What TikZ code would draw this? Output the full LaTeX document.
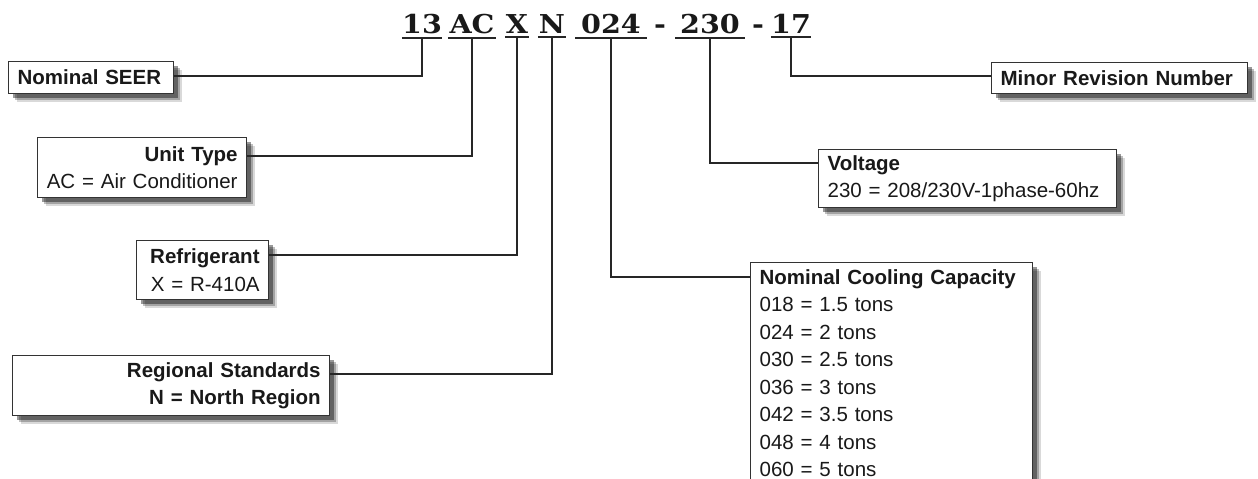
\documentclass[tikz,border=0pt]{standalone}
\usepackage{fontspec}
\setmainfont{Liberation Sans}
\newfontfamily\codefont[FakeStretch=1.1]{DejaVu Serif}
\usetikzlibrary{shadows}

\tikzset{
  infobox/.style={draw=black!80, line width=1.2pt, fill=white, anchor=north west,
    inner xsep=9pt, inner ysep=0pt, text=black!90,
    font=\fontsize{20.5}{27.5}\selectfont,
    drop shadow={shadow xshift=8pt, shadow yshift=-8pt, fill=black, opacity=.15},
    drop shadow={shadow xshift=6pt, shadow yshift=-6pt, fill=black, opacity=.25},
    drop shadow={shadow xshift=4pt, shadow yshift=-4pt, fill=black, opacity=.4}},
  code/.style={font=\codefont\bfseries\fontsize{26}{30}\selectfont, text=black!90,
    anchor=base, inner xsep=0pt, inner ysep=4pt},
  lead/.style={line width=2pt, black!85}
}

\begin{document}
\begin{tikzpicture}[x=1pt, y=-1pt]
    \useasboundingbox (0, 0) rectangle (1258, 479);

    % model number
    \node[code, minimum width=35pt] (c13) at (422, 33) {13};
    \node[code, minimum width=48pt] (cac) at (472, 33) {AC};
    \node[code, minimum width=24pt] (cx) at (517, 33) {X};
    \node[code, minimum width=28pt] (cn) at (552, 33) {N};
    \node[code, minimum width=71pt] (c024) at (611, 33) {024};
    \node[code] (dash1) at (660, 33) {-};
    \node[code, minimum width=69pt] (c230) at (710, 33) {230};
    \node[code] (dash2) at (758, 33) {-};
    \node[code, minimum width=35pt] (c17) at (791, 33) {17};
    \foreach \n in {c13, cac, cx, cn, c024, c230, c17}
      \draw[lead] (\n.south west) -- (\n.south east);

    % boxes
    \node[infobox, text width=147pt, minimum height=32pt, align=left] (seer) at (8, 61)
      {\textbf{Nominal SEER}};
    \node[infobox, text width=191pt, minimum height=60pt, align=right] (unit) at (37, 137)
      {\textbf{Unit Type}\\AC = Air Conditioner};
    \node[infobox, text width=114pt, minimum height=59pt, align=right] (refr) at (136, 240)
      {\textbf{Refrigerant}\\X = R-410A};
    \node[infobox, text width=299pt, minimum height=60pt, align=right] (region) at (12, 355)
      {\textbf{Regional Standards}\\\textbf{N = North Region}};
    \node[infobox, text width=264pt, inner ysep=7pt, align=left] (cool) at (750, 262)
      {\textbf{Nominal Cooling Capacity}\\018 = 1.5 tons\\024 = 2 tons\\030 = 2.5 tons\\
       036 = 3 tons\\042 = 3.5 tons\\048 = 4 tons\\060 = 5 tons};
    \node[infobox, text width=280pt, minimum height=58pt, align=left] (volt) at (818, 149)
      {\textbf{Voltage}\\230 = 208/230V-1phase-60hz};
    \node[infobox, text width=238pt, minimum height=31pt, align=left] (minor) at (991, 62)
      {\textbf{Minor Revision Number}};

    % leaders
    \draw[lead] (c13.south) |- ([yshift=-15pt]seer.north east);
    \draw[lead] (cac.south) |- ([yshift=-19pt]unit.north east);
    \draw[lead] (cx.south) |- ([yshift=-15pt]refr.north east);
    \draw[lead] (cn.south) |- ([yshift=-19pt]region.north east);
    \draw[lead] (c024.south) |- ([yshift=-15pt]cool.north west);
    \draw[lead] (c230.south) |- ([yshift=-14pt]volt.north west);
    \draw[lead] (c17.south) |- ([yshift=-14pt]minor.north west);
\end{tikzpicture}
\end{document}
